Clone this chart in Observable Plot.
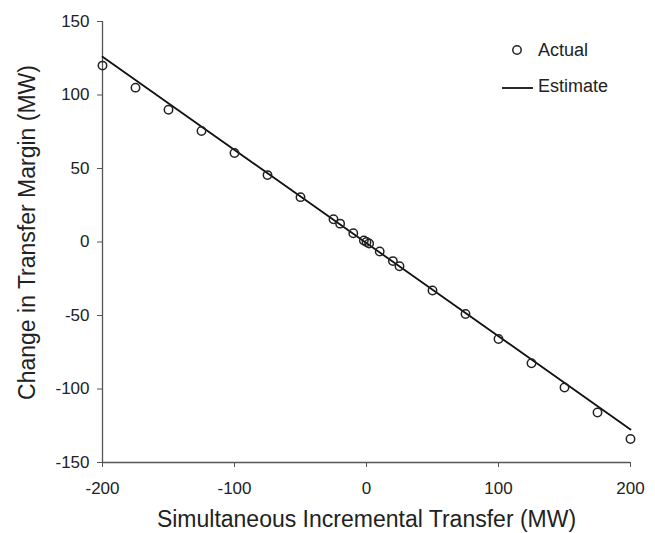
<!DOCTYPE html>
<html>
<head>
<meta charset="utf-8">
<script src="https://cdn.jsdelivr.net/npm/d3@7"></script>
<script src="https://cdn.jsdelivr.net/npm/@observablehq/plot@0.6"></script>
<style>
  html, body { margin: 0; padding: 0; background: #fff; }
  #wrap { position: relative; width: 655px; height: 533px; }
  #legend { position: absolute; left: 495px; top: 30px; }
</style>
</head>
<body>
<div id="wrap"></div>
<script>
// Data
const transfer = [-200, -175, -150, -125, -100, -75, -50, -25, -20, -10, -2, 0, 2, 10, 20, 25, 50, 75, 100, 125, 150, 175, 200];
const actual   = [120, 105, 90, 75.5, 60.5, 45.5, 30.5, 15.5, 12.5, 6, 1, 0, -1, -6.5, -13, -16.5, -33, -49, -66, -82.5, -99, -116, -134];
const estimateX = [-200, 200];
const estimateY = [126, -127.5];
const xTicks = [-200, -100, 0, 100, 200];
const yTicks = [-150, -100, -50, 0, 50, 100, 150];
const xTitle = "Simultaneous Incremental Transfer (MW)";
const yTitle = "Change in Transfer Margin (MW)";
const legendLabels = ["Actual", "Estimate"];

const points = transfer.map((x, i) => ({x, y: actual[i]}));
const est = estimateX.map((x, i) => ({x, y: estimateY[i]}));

const font = "'Liberation Sans', Arial, Helvetica, sans-serif";

const chart = Plot.plot({
  width: 655,
  height: 533,
  marginLeft: 102,
  marginRight: 25,
  marginTop: 21,
  marginBottom: 71,
  style: {fontFamily: font, background: "white", color: "#222"},
  x: {domain: [-200, 200]},
  y: {domain: [-150, 150]},
  marks: [
    Plot.ruleX([-200], {stroke: "#555", strokeWidth: 1.3}),
    Plot.ruleY([-150], {stroke: "#555", strokeWidth: 1.3}),
    Plot.axisX({ticks: xTicks, tickSize: 5, tickPadding: 14, fontSize: 17, label: null, tickFormat: d => String(d), stroke: "#555"}),
    Plot.axisY({ticks: yTicks, tickSize: 5, tickPadding: 8, fontSize: 17, label: null, tickFormat: d => String(d), stroke: "#555"}),
    Plot.line(est, {x: "x", y: "y", stroke: "#111", strokeWidth: 1.8}),
    Plot.dot(points, {x: "x", y: "y", r: 4.2, stroke: "#222", strokeWidth: 1.5, fill: "none"}),
    Plot.text([xTitle], {text: d => d, frameAnchor: "bottom", dy: 48, lineAnchor: "top", fontSize: 23, fill: "#222"}),
    Plot.text([yTitle], {text: d => d, frameAnchor: "left", textAnchor: "middle", lineAnchor: "middle", dx: -75, dy: -9.5, rotate: -90, fontSize: 23, fill: "#222"})
  ]
});

const wrap = document.getElementById("wrap");
wrap.appendChild(chart);

const legend = document.createElement("div");
legend.id = "legend";
legend.innerHTML = `
<svg width="150" height="75" style="font-family:${font};">
  <circle cx="22" cy="20" r="4.2" fill="none" stroke="#222" stroke-width="1.5"></circle>
  <text x="43" y="26" font-size="18" fill="#222">${legendLabels[0]}</text>
  <line x1="7" x2="38" y1="58" y2="58" stroke="#111" stroke-width="1.8"></line>
  <text x="43" y="62" font-size="18" fill="#222">${legendLabels[1]}</text>
</svg>`;
wrap.appendChild(legend);
</script>
</body>
</html>
